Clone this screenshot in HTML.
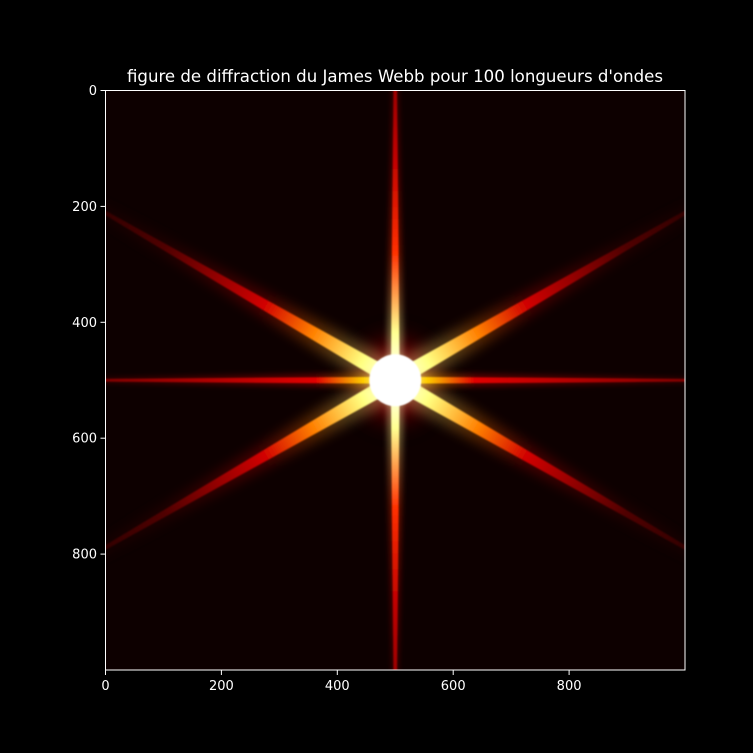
<!DOCTYPE html>
<html><head><meta charset="utf-8"><style>
html,body{margin:0;padding:0;background:#000;}
svg{display:block;font-family:"DejaVu Sans","Liberation Sans",sans-serif;}
</style></head><body>
<svg id="chart" width="753" height="753" viewBox="0 0 753 753">
<defs>
<clipPath id="plotclip"><rect x="105.5" y="90.5" width="579.5" height="579.5"/></clipPath>
<filter id="blur4" x="-50%" y="-50%" width="200%" height="200%"><feGaussianBlur stdDeviation="3"/></filter>
<filter id="blur2" x="-50%" y="-50%" width="200%" height="200%"><feGaussianBlur stdDeviation="0.8"/></filter>
<filter id="blur8" x="-50%" y="-50%" width="200%" height="200%"><feGaussianBlur stdDeviation="6"/></filter>
<linearGradient id="gDiag" x1="0" y1="0" x2="1" y2="0">
<stop offset="0" stop-color="#fff"/><stop offset="0.1" stop-color="#ffff80"/><stop offset="0.25" stop-color="#ff8000"/><stop offset="0.4" stop-color="#d00000"/><stop offset="0.7" stop-color="#500000"/><stop offset="1" stop-color="#200000"/>
</linearGradient>
<linearGradient id="gVert" x1="0" y1="0" x2="1" y2="0">
<stop offset="0" stop-color="#fff"/><stop offset="0.15" stop-color="#ffff90"/><stop offset="0.4" stop-color="#ff3000"/><stop offset="0.7" stop-color="#c00000"/><stop offset="1" stop-color="#900000"/>
</linearGradient>
<linearGradient id="gHorz" x1="0" y1="0" x2="1" y2="0">
<stop offset="0" stop-color="#fff"/><stop offset="0.1" stop-color="#ffcc00"/><stop offset="0.25" stop-color="#e00000"/><stop offset="1" stop-color="#700000"/>
</linearGradient>
<radialGradient id="gCore"><stop offset="0" stop-color="#ff4000"/><stop offset="0.5" stop-color="#900000"/><stop offset="1" stop-color="#200000" stop-opacity="0"/></radialGradient>
</defs>
<rect x="105.5" y="90.5" width="579.5" height="579.5" fill="#0d0000"/>
<g id="plot" clip-path="url(#plotclip)"></g>
<rect x="105.5" y="90.5" width="579.5" height="579.5" fill="none" stroke="#fff" stroke-width="1"/>
<text x="395" y="82" fill="#fff" font-size="16.6" text-anchor="middle">figure de diffraction du James Webb pour 100 longueurs d'ondes</text>
<g id="axes"></g>
</svg>
<script>
const xTicks=[0,200,400,600,800];
const yTicks=[0,200,400,600,800];
const spikeAngles=[30,150,210,330];
const vertAngles=[90,270];
const horzAngles=[0,180];
const center=[500,500];
const NS="http://www.w3.org/2000/svg";
const X0=105.5,Y0=90.5,S=579.5/1000;
const sx=v=>X0+v*S, sy=v=>Y0+v*S;
const plot=document.getElementById('plot'), axes=document.getElementById('axes');
function mk(t,a,p){const e=document.createElementNS(NS,t);for(const k in a)e.setAttribute(k,a[k]);p.appendChild(e);return e;}
const cx=sx(center[0]), cy=sy(center[1]);
function spike(ang,grad,w0,w1,L,filt,op,name){
  const g=mk('g',{transform:`translate(${cx},${cy}) rotate(${-ang})`,opacity:op},plot);
  const p=mk('polygon',{points:`0,${-w0} ${L},${-w1} ${L},${w1} 0,${w0}`,fill:`url(#${grad})`,filter:`url(#${filt})`},g);
  
  
}
const glow=mk('circle',{cx:cx,cy:cy,r:60,fill:"url(#gCore)",opacity:0.6,filter:"url(#blur8)"},plot);


spikeAngles.forEach(a=>{spike(a,'gDiag',16,4,380,'blur8',0.3,'diagonal-spike-halo');spike(a,'gDiag',8,1.2,380,'blur2',1,'diagonal-spike');});
vertAngles.forEach(a=>{spike(a,'gVert',9,2.5,320,'blur4',0.35,'vertical-spike-halo');spike(a,'gVert',4.5,1.5,320,'blur2',1,'vertical-spike');});
horzAngles.forEach(a=>{spike(a,'gHorz',8,2,320,'blur4',0.35,'horizontal-spike-halo');spike(a,'gHorz',3.5,1.2,320,'blur2',1,'horizontal-spike');});
const core=mk('circle',{cx:cx,cy:cy,r:26,fill:"#fff",filter:"url(#blur2)"},plot);


xTicks.forEach(v=>{
  const l=mk('line',{x1:sx(v),x2:sx(v),y1:670,y2:675,stroke:"#fff"},axes);
  
  
  const t=mk('text',{x:sx(v),y:690,fill:"#fff","font-size":13,"text-anchor":"middle"},axes);
  t.textContent=v;
  
  
});
yTicks.forEach(v=>{
  const l=mk('line',{x1:100.5,x2:105.5,y1:sy(v),y2:sy(v),stroke:"#fff"},axes);
  
  
  const t=mk('text',{x:97,y:sy(v)+4.5,fill:"#fff","font-size":13,"text-anchor":"end"},axes);
  t.textContent=v;
  
  
});
</script>
</body></html>
